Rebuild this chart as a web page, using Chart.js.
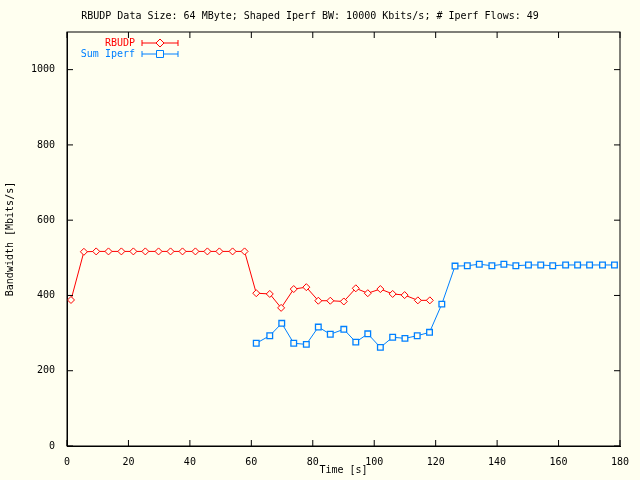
<!DOCTYPE html>
<html>
<head>
<meta charset="utf-8">
<script src="https://cdn.jsdelivr.net/npm/chart.js@4/dist/chart.umd.min.js"></script>
<style>
  html, body { margin: 0; padding: 0; background: #fffff0; }
  #wrap { width: 640px; height: 480px; }
</style>
</head>
<body>
<div id="wrap"><canvas id="chart" width="640" height="480"></canvas></div>
<script>
// data
const rbudpTime = [1.3, 5.5, 9.5, 13.5, 17.7, 21.6, 25.5, 29.8, 33.7, 37.6, 41.8, 45.7, 49.6, 53.9, 57.8,
    61.6, 66, 69.7, 73.8, 77.9, 81.8, 85.7, 90.1, 94, 97.9, 102, 106, 109.9, 114.2, 118.1];
const rbudpBw = [388, 516, 517, 517, 517, 517, 517, 517, 517, 517, 517, 517, 517, 517, 517,
    406, 404, 367, 417, 422, 386, 386, 384, 419, 406, 417, 404, 401, 387, 387];
const iperfTime = [61.6, 66, 69.9, 73.8, 77.9, 81.8, 85.7, 90.1, 94, 97.9, 102, 106, 110, 114, 118, 122,
    126.3, 130.3, 134.2, 138.3, 142.2, 146.1, 150.2, 154.2, 158.1, 162.3, 166.2, 170.1, 174.3, 178.2];
const iperfBw = [273, 293, 326, 273, 270, 316, 297, 310, 276, 298, 262, 289, 286, 293, 302, 377,
    478, 479, 483, 479, 483, 479, 481, 481, 479, 481, 481, 481, 481, 481];
const xTicks = [0, 20, 40, 60, 80, 100, 120, 140, 160, 180];
const yTicks = [0, 200, 400, 600, 800, 1000];

const FONT = { family: 'DejaVu Sans Mono', size: 10, weight: 'normal' };

const toPoints = (xs, ys) => xs.map((x, i) => ({ x: x, y: ys[i] }));

// draws the legend inside the plot, top-left, like gnuplot does
const insideLegend = {
    id: 'insideLegend',
    afterDraw(chart) {
        const ctx = chart.ctx;
        ctx.save();
        ctx.font = '10px "DejaVu Sans Mono"';
        ctx.textBaseline = 'middle';
        chart.data.datasets.forEach((ds, i) => {
            const y = 43 + i * 11;
            const x0 = 142, x1 = 178;
            ctx.fillStyle = ds.borderColor;
            ctx.textAlign = 'right';
            ctx.fillText(ds.label, 135, y);
            ctx.strokeStyle = ds.borderColor;
            ctx.lineWidth = 1;
            ctx.beginPath();
            ctx.moveTo(x0, y); ctx.lineTo(x1, y);
            ctx.moveTo(x0, y - 3); ctx.lineTo(x0, y + 3);
            ctx.moveTo(x1, y - 3); ctx.lineTo(x1, y + 3);
            ctx.stroke();
            const mx = (x0 + x1) / 2;
            ctx.beginPath();
            if (ds.pointStyle === 'rectRot') {
                ctx.moveTo(mx, y - 4); ctx.lineTo(mx + 4, y); ctx.lineTo(mx, y + 4); ctx.lineTo(mx - 4, y); ctx.closePath();
            } else {
                ctx.rect(mx - 3.5, y - 3.5, 7, 7);
            }
            ctx.fillStyle = '#fffff0';
            ctx.fill();
            ctx.stroke();
        });
        ctx.restore();
    }
};

document.addEventListener('DOMContentLoaded', () => {
    Chart.defaults.font = FONT;
    Chart.defaults.color = '#000';
    new Chart(document.getElementById('chart'), {
        type: 'line',
        data: {
            datasets: [{
                label: 'RBUDP',
                data: toPoints(rbudpTime, rbudpBw),
                borderColor: '#ff0000',
                backgroundColor: '#fffff0',
                borderWidth: 1,
                pointStyle: 'rectRot',
                pointRadius: 3.5,
                pointBorderWidth: 1,
                tension: 0
            }, {
                label: 'Sum Iperf',
                data: toPoints(iperfTime, iperfBw),
                borderColor: '#0080ff',
                backgroundColor: '#fffff0',
                borderWidth: 1,
                pointStyle: 'rect',
                pointRadius: 4,
                pointBorderWidth: 1.3,
                tension: 0
            }]
        },
        options: {
            responsive: false,
            animation: false,
            layout: { padding: { top: 2, right: 20, left: 0, bottom: 0 } },
            plugins: {
                legend: { display: false },
                tooltip: { enabled: false },
                title: {
                    display: true,
                    text: 'RBUDP Data Size: 64 MByte; Shaped Iperf BW: 10000 Kbits/s; # Iperf Flows: 49',
                    font: FONT,
                    color: '#000',
                    padding: { top: 8, bottom: 10 }
                }
            },
            scales: {
                x: {
                    type: 'linear',
                    min: 0, max: 180,
                    afterBuildTicks: (axis) => { axis.ticks = xTicks.map(v => ({ value: v })); },
                    afterFit: (axis) => { axis.height = 34; },
                    grid: { display: false },
                    border: { color: '#000', width: 1 },
                    ticks: { color: '#000', maxRotation: 0, padding: 2 },
                    title: { display: true, text: 'Time [s]', color: '#000', padding: { top: 0 } }
                },
                y: {
                    min: 0, max: 1100,
                    afterBuildTicks: (axis) => { axis.ticks = yTicks.map(v => ({ value: v })); },
                    afterFit: (axis) => { axis.width = 67; },
                    grid: { display: false },
                    border: { color: '#000', width: 1 },
                    ticks: { color: '#000', padding: 4, callback: (v) => String(v) },
                    title: { display: true, text: 'Bandwidth [Mbits/s]', color: '#000', padding: { bottom: 6 } }
                }
            }
        },
        plugins: [insideLegend, {
            id: 'frame',
            beforeDraw(chart) {
                const ctx = chart.ctx;
                ctx.save();
                ctx.fillStyle = '#fffff0';
                ctx.fillRect(0, 0, chart.width, chart.height);
                ctx.restore();
            },
            afterDatasetsDraw(chart) {
                const { ctx, chartArea: a, scales } = chart;
                ctx.save();
                ctx.strokeStyle = '#000';
                ctx.lineWidth = 1;
                ctx.strokeRect(a.left, a.top, a.right - a.left, a.bottom - a.top);
                ctx.beginPath();
                xTicks.forEach(v => {
                    const px = scales.x.getPixelForValue(v);
                    ctx.moveTo(px, a.bottom); ctx.lineTo(px, a.bottom - 6);
                    ctx.moveTo(px, a.top); ctx.lineTo(px, a.top + 6);
                });
                yTicks.forEach(v => {
                    const py = scales.y.getPixelForValue(v);
                    ctx.moveTo(a.left, py); ctx.lineTo(a.left + 6, py);
                    ctx.moveTo(a.right, py); ctx.lineTo(a.right - 6, py);
                });
                ctx.stroke();
                ctx.restore();
            }
        }]
    });
});
</script>
</body>
</html>
